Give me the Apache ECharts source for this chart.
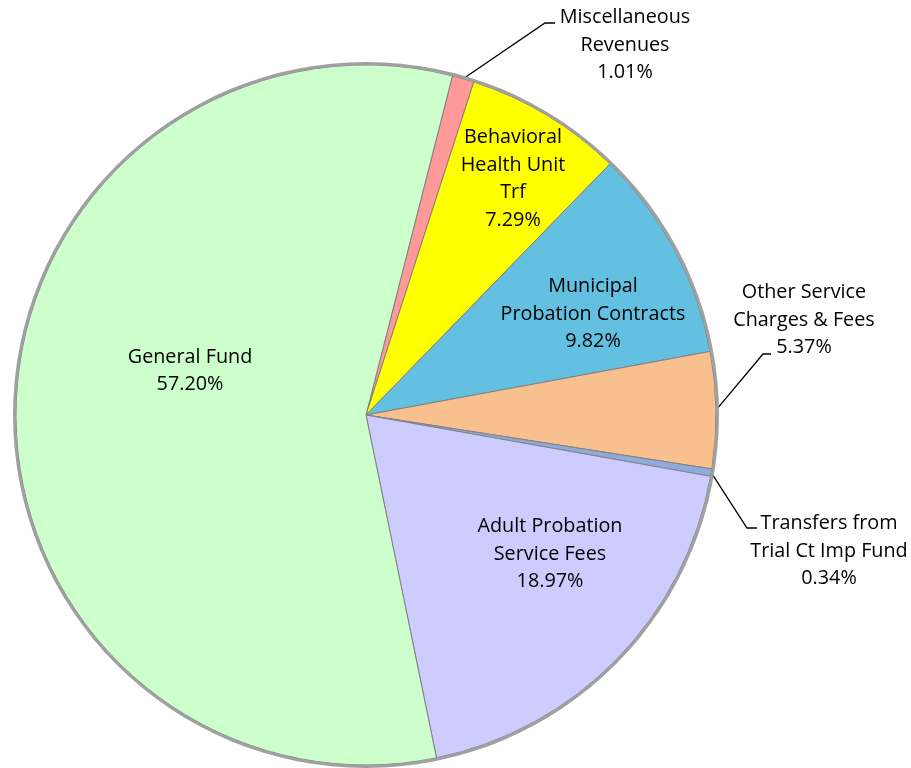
<!DOCTYPE html>
<html><head><meta charset="utf-8">
<script src="https://cdn.jsdelivr.net/npm/echarts@6/dist/echarts.min.js"></script>
<style>html,body{margin:0;padding:0;background:#fff}#c{width:911px;height:768px}</style>
</head><body><div id="c"></div>
<script>
const categories = ["Miscellaneous\nRevenues","Behavioral\nHealth Unit\nTrf","Municipal\nProbation Contracts","Other Service\nCharges & Fees","Transfers from\nTrial Ct Imp Fund","Adult Probation\nService Fees","General Fund"];
const values = [1.01, 7.29, 9.82, 5.37, 0.34, 18.97, 57.20];
const colors = ['#FF9999','#FFFF00','#63C0E0','#F9C08F','#8FAADC','#CCCCFF','#CCFFCC'];
const outside = [true,false,false,true,true,false,false];
const labelPos = [[625,45],[513,179],[593,314],[804,320],[829,551],[550,554],[190,371]];
// leader line bend + end points for outside labels
const linePts = {0:[[545,23],[555,23]], 3:[[763,354],[771,354]], 4:[[747,528],[757,528]]};

const chart = echarts.init(document.getElementById('c'));
const data = categories.map((n,i)=>({
  name:n, value:values[i],
  itemStyle:{color:colors[i]},
  label:{position: outside[i]?'outside':'inside'},
  labelLine:{show: outside[i]}
}));
chart.setOption({
  animation:false,
  series:[{
    type:'pie', center:[366,415], radius:[0,350], startAngle:75.7, clockwise:true,
    silent:true,
    itemStyle:{borderColor:'#808080', borderWidth:1},
    label:{show:true, color:'#000', fontFamily:'Open Sans', fontSize:19.8, lineHeight:27.5, align:'center',
      overflow:'none', edgeDistance:0,
      formatter:p=>p.name+'\n'+p.value.toFixed(2)+'%'},
    labelLine:{length:20,length2:8,lineStyle:{color:'#000',width:1.3}},
    labelLayout:function(p){
      const q=labelPos[p.dataIndex];
      const r={x:q[0],y:q[1],align:'center',verticalAlign:'middle'};
      const lp=linePts[p.dataIndex];
      if(lp && p.labelLinePoints){ r.labelLinePoints=[p.labelLinePoints[0], lp[0], lp[1]]; }
      return r;
    },
    data:data
  },{
    type:'pie', center:[366,415], radius:[350,353], silent:true, label:{show:false}, labelLine:{show:false},
    itemStyle:{color:'#A0A0A0'}, data:[1]
  }]
});
</script></body></html>
